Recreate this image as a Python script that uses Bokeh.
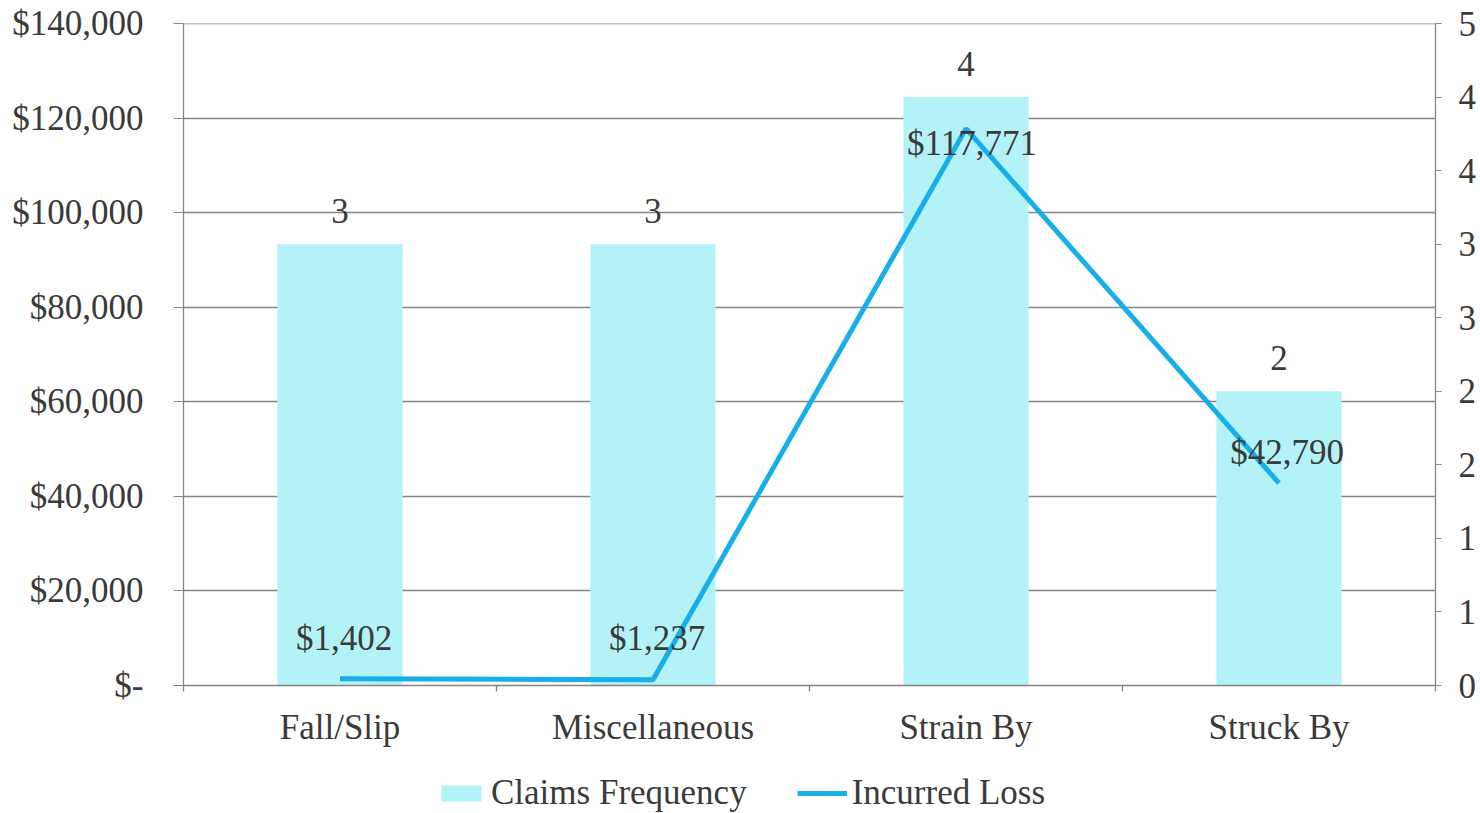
from bokeh.plotting import figure
from bokeh.layouts import column
from bokeh.models import (Range1d, LinearAxis, FixedTicker, Legend, LegendItem, Span,
                          CustomJSTickFormatter, NumeralTickFormatter, ColumnDataSource, LabelSet)
from bokeh.embed import file_html
from bokeh.resources import INLINE

# ---- data ----
categories = ["Fall/Slip", "Miscellaneous", "Strain By", "Struck By"]
claims_frequency = [3, 3, 4, 2]
incurred_loss = [1402, 1237, 117771, 42790]
left_ticks = [0, 20000, 40000, 60000, 80000, 100000, 120000, 140000]
right_ticks = [0, 0.5, 1, 1.5, 2, 2.5, 3, 3.5, 4, 4.5]
series_names = ["Claims Frequency", "Incurred Loss"]

# ---- styles ----
FONT = "Liberation Serif"
FS = "35px"
TXT = "#3a3a3a"
BAR = "#B3F3F8"
LINE = "#17AEEA"
GRID = "#858585"
loss_label_dx = [4, 4, 6, 8]
loss_label_dy = [29, 30, -26, 19]

xs = [i + 0.5 for i in range(len(categories))]
src = ColumnDataSource(dict(
    x=xs,
    freq=claims_frequency,
    loss=incurred_loss,
    freq_label=[str(v) for v in claims_frequency],
    loss_label=["${:,}".format(v) for v in incurred_loss],
    dx=loss_label_dx,
    dy=loss_label_dy,
))

p = figure(width=1480, height=760, output_backend="svg", toolbar_location=None,
           x_range=Range1d(0, len(categories)), y_range=Range1d(left_ticks[0], left_ticks[-1]),
           min_border_left=183, min_border_right=45, min_border_top=23, min_border_bottom=75)
p.extra_y_ranges = {"freq": Range1d(right_ticks[0], right_ticks[-1])}
p.outline_line_color = None
p.background_fill_color = "white"
p.border_fill_color = "white"

# grid
p.xgrid.visible = False
p.ygrid.ticker = FixedTicker(ticks=left_ticks)
p.ygrid.grid_line_color = GRID
p.ygrid.grid_line_width = 1.3
p.add_layout(Span(location=left_ticks[-1], dimension="width", line_color=GRID, line_width=1.3))

bars = p.vbar(x="x", top="freq", width=0.4, source=src, y_range_name="freq",
              fill_color=BAR, line_color=None)
line = p.line(x="x", y="loss", source=src, line_color=LINE, line_width=5)

# left axis
ya = p.yaxis[0]
ya.ticker = FixedTicker(ticks=left_ticks)
ya.formatter = NumeralTickFormatter(format="$0,0")
ya.major_label_overrides = {0: "$-"}
ya.axis_line_color = GRID
ya.axis_line_width = 1.3
ya.major_tick_out = 10
ya.major_tick_in = 0
ya.major_tick_line_color = GRID
ya.minor_tick_line_color = None
ya.major_label_standoff = 30
ya.major_label_text_font = FONT
ya.major_label_text_font_size = FS
ya.major_label_text_color = TXT

# right axis
ra = LinearAxis(y_range_name="freq", ticker=FixedTicker(ticks=right_ticks),
                formatter=CustomJSTickFormatter(code="return Math.round(tick).toString();"))
ra.axis_line_color = GRID
ra.axis_line_width = 1.3
ra.major_tick_out = 6
ra.major_tick_in = 0
ra.major_tick_line_color = GRID
ra.minor_tick_line_color = None
ra.major_label_standoff = 17
ra.major_label_text_font = FONT
ra.major_label_text_font_size = FS
ra.major_label_text_color = TXT
ra.major_label_text_align = "left"
p.add_layout(ra, "right")

# bottom axis
xa = p.xaxis[0]
xa.ticker = FixedTicker(ticks=xs, minor_ticks=list(range(len(categories) + 1)))
xa.formatter = CustomJSTickFormatter(args=dict(labels=categories),
                                     code="return labels[Math.floor(tick)] || '';")
xa.axis_line_color = GRID
xa.axis_line_width = 1.3
xa.major_tick_out = 0
xa.major_tick_in = 0
xa.minor_tick_out = 6
xa.minor_tick_in = 0
xa.minor_tick_line_color = GRID
xa.minor_tick_line_width = 1.3
xa.major_label_standoff = 16
xa.major_label_text_font = FONT
xa.major_label_text_font_size = FS
xa.major_label_text_color = TXT

# data labels
p.add_layout(LabelSet(x="x", y="freq", text="freq_label", source=src, y_range_name="freq",
                      y_offset=21, text_align="center", text_baseline="alphabetic",
                      text_font=FONT, text_font_size=FS, text_color=TXT))
p.add_layout(LabelSet(x="x", y="loss", text="loss_label", source=src,
                      x_offset="dx", y_offset="dy", text_align="center", text_baseline="alphabetic",
                      text_font=FONT, text_font_size=FS, text_color=TXT))

# ---- legend strip (separate figure; swatch renderers sit outside its visible range) ----
lg = figure(width=1480, height=53, output_backend="svg", toolbar_location=None,
            x_axis_type=None, y_axis_type=None, x_range=Range1d(0, 1), y_range=Range1d(0, 1),
            min_border_left=0, min_border_right=0, min_border_top=0, min_border_bottom=0)
lg.outline_line_color = None
lg.grid.visible = False
lg_bar = lg.vbar(x=[-10], top=[-10], width=0.4, fill_color=BAR, line_color=None)
lg_line = lg.line(x=[-10, -9], y=[-10, -10], line_color=LINE, line_width=5)
legend = Legend(items=[LegendItem(label=series_names[0], renderers=[lg_bar]),
                       LegendItem(label=series_names[1], renderers=[lg_line])],
                orientation="horizontal", location=(253, 0),
                label_text_font=FONT, label_text_font_size=FS, label_text_color=TXT,
                glyph_width=50, glyph_height=20, spacing=50, label_standoff=5,
                border_line_color=None, background_fill_alpha=0, padding=0, margin=0)
lg.add_layout(legend, "center")

open("out.html", "w").write(file_html(column(p, lg, spacing=0), INLINE))
